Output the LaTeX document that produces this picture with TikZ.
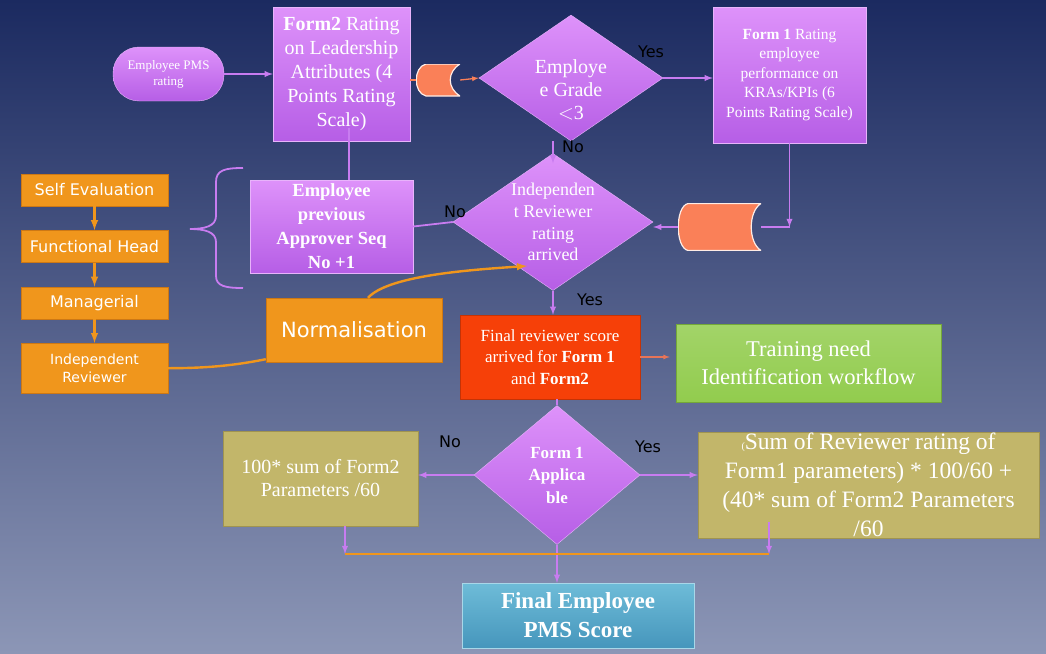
\documentclass[tikz,border=0pt]{standalone}
\usepackage{fontspec}
\setmainfont{Liberation Serif}
\newfontfamily\tahoma{DejaVu Sans}
\usetikzlibrary{shapes.geometric,arrows,chains,positioning,calc}

\definecolor{bgtop}{RGB}{27,42,96}
\definecolor{bgbot}{RGB}{140,150,182}
\definecolor{lilac}{RGB}{200,124,240}
\definecolor{lilactop}{RGB}{222,146,250}
\definecolor{lilacbot}{RGB}{182,94,230}
\definecolor{amber}{RGB}{240,150,28}
\definecolor{amberdk}{RGB}{205,120,20}
\definecolor{coral}{RGB}{250,128,88}
\definecolor{salmon}{RGB}{232,116,88}
\definecolor{scarlet}{RGB}{246,64,8}
\definecolor{lime}{RGB}{146,204,78}
\definecolor{limedk}{RGB}{116,168,56}
\definecolor{khaki}{RGB}{194,182,106}
\definecolor{khakidk}{RGB}{160,148,80}
\definecolor{tealtop}{RGB}{110,188,216}
\definecolor{tealbot}{RGB}{70,150,188}

\begin{document}
\begin{tikzpicture}[
x=1pt,y=-1pt,
purp/.style={
  draw=lilactop!70!white,
  top color=lilactop,
  bottom color=lilacbot,
  text=white,
  align=center,
  inner sep=1pt
},
decide/.style={
  diamond,
  draw=lilactop!70!white,
  top color=lilactop,
  bottom color=lilacbot,
  inner sep=0pt
},
dtext/.style={
  text=white,
  align=center
},
flow/.style={
  draw=amberdk,
  fill=amber,
  text=white,
  align=center,
  minimum width=147,
  minimum height=32,
  font=\tahoma\fontsize{16}{18}\selectfont
},
olive/.style={
  draw=khakidk,
  fill=khaki,
  text=white,
  align=center
},
tape/.style={
  inner sep=0pt,
  path picture={
    \filldraw[fill=coral,draw=white!85!coral,line width=1.2pt]
      ([xshift=10pt]path picture bounding box.north west)
      -- (path picture bounding box.north east)
      .. controls +(-13,8) and +(-13,-8) .. (path picture bounding box.south east)
      -- ([xshift=10pt]path picture bounding box.south west)
      .. controls +(-13,-3) and +(-13,3) .. ([xshift=10pt]path picture bounding box.north west)
      -- cycle;
  }
},
yn/.style={
  font=\tahoma\fontsize{16}{18}\selectfont,
  text=black
},
link/.style={
  draw=lilac,
  line width=1.8pt
},
amline/.style={
  draw=amber,
  line width=2.4pt
},
coralline/.style={
  draw=coral,
  line width=1.3pt
}
]
\useasboundingbox (0,0) rectangle (1046,653);
\fill[top color=bgtop,bottom color=bgbot] (0,0) rectangle (1046,653);

\node[purp,rounded corners=26pt,minimum width=111,minimum height=54,
  font=\fontsize{13}{16}\selectfont] at (168.5,74)
  (pms) {Employee PMS\\rating};
\node[purp,minimum width=137,minimum height=134,
  font=\fontsize{20}{24}\selectfont] at (341.5,74)
  (form2) {\textbf{Form2} Rating\\on Leadership\\Attributes (4\\Points Rating\\Scale)};
\node[tape,minimum width=44,minimum height=32] at (438,80)
  (tape1) {};
\node[decide,minimum width=184,minimum height=126,
  label={[dtext,yshift=-12pt,font=\fontsize{20}{23}\selectfont]center:{Employe\\e Grade\\$<$3}}] at (571,78)
  (grade) {};
\node[purp,minimum width=153,minimum height=136,
  font=\fontsize{15.5}{19.5}\selectfont] at (789.5,75)
  (form1) {\textbf{Form 1} Rating\\employee\\performance on\\KRAs/KPIs (6\\Points Rating Scale)};
\node[tape,minimum width=83,minimum height=47] at (719.5,227)
  (tape2) {};
\node[decide,minimum width=200,minimum height=137,
  label={[dtext,font=\fontsize{18}{21.7}\selectfont]center:{Independen\\t Reviewer\\rating\\arrived}}] at (553,222)
  (rev) {};
\node[purp,minimum width=163,minimum height=93,
  font=\bfseries\fontsize{18.5}{24}\selectfont] at (331.5,226.5)
  (prev) {Employee\\previous\\Approver Seq\\No +1};

\begin{scope}[start chain=1 going below,node distance=24pt]
\node[flow,on chain=1] at (94.5,190)
  (self) {Self Evaluation};
\node[flow,on chain=1,join=by {amline,-latex}]
  (func) {Functional Head};
\node[flow,on chain=1,join=by {amline,-latex}]
  (mgr) {Managerial};
\node[flow,on chain=1,join=by {amline,-latex},minimum height=50,
  font=\tahoma\fontsize{14}{18}\selectfont]
  (indep) {Independent\\Reviewer};
\end{scope}

\node[flow,minimum width=176,minimum height=64,
  font=\tahoma\fontsize{21}{24}\selectfont] at (354,330)
  (norm) {Normalisation};
\node[draw=scarlet!80!black,fill=scarlet,text=white,align=center,
  minimum width=180,minimum height=84,
  font=\fontsize{17}{21.5}\selectfont] at (550,357)
  (fr) {Final reviewer score\\arrived for \textbf{Form 1}\\and \textbf{Form2}};
\node[draw=limedk,top color=lime!85!white,bottom color=lime,text=white,align=center,
  minimum width=265,minimum height=78,
  font=\fontsize{22.5}{28}\selectfont] at (808.5,363)
  (train) {Training need\\Identification workflow};
\node[decide,minimum width=166,minimum height=139,
  label={[dtext,font=\bfseries\fontsize{17}{22.5}\selectfont]center:{Form 1\\Applica\\ble}}] at (557,475)
  (appl) {};
\node[olive,minimum width=195,minimum height=95,
  font=\fontsize{20}{23}\selectfont] at (320.5,478.5)
  (lbox) {100* sum of Form2\\Parameters /60};
\node[olive,minimum width=341,minimum height=106,
  label={[dtext,font=\fontsize{23.5}{29}\selectfont]center:{{\fontsize{10}{10}\selectfont(}Sum of Reviewer rating of\\Form1 parameters) * 100/60 +\\(40* sum of Form2 Parameters\\/60}}] at (868.5,485)
  (rbox) {};
\node[draw=tealtop!60!white,top color=tealtop,bottom color=tealbot,text=white,align=center,
  minimum width=232,minimum height=65,
  font=\bfseries\fontsize{23}{29}\selectfont] at (578,615.5)
  (score) {Final Employee\\PMS Score};

\node[yn] at (651,52) (yes1) {Yes};
\node[yn] at (573,147) (no1) {No};
\node[yn] at (455,212) (no2) {No};
\node[yn] at (590,300) (yes2) {Yes};
\node[yn] at (450,442) (no3) {No};
\node[yn] at (648,447) (yes3) {Yes};

\coordinate (cut) at (349,128);
\coordinate (cut2) at (769,522);
\coordinate (joinL) at (345,554);
\coordinate (joinR) at (769,554);

\draw[link,-latex] (pms) -- (form2);
\draw[coralline] (form2.east |- tape1) -- (tape1.west);
\draw[coralline,-latex] (tape1.east) -- (grade.west);
\draw[link,-latex] (grade.east) -- (grade.east -| form1.west);
\draw[link,-latex] (form1.south) -- (form1.south |- tape2);
\draw[link] (form1.south |- tape2) -- (tape2.east);
\draw[link,-latex] (tape2.west) -- (tape2.west -| rev.east);
\draw[link,-latex] (rev.north |- grade.south) -- ([yshift=-10pt]rev.north);
\draw[link] (rev.west) -- (prev.east);
\draw[link] (prev.north -| cut) -- (cut);
\draw[link,-latex] (rev.south) -- (rev.south |- fr.north);
\draw[salmon,line width=1.2pt,-latex] (fr.east) -- ([xshift=-6pt]fr.east -| train.west);
\draw[link] (fr.south -| appl.north) -- (appl.north);
\draw[link,-latex] (appl.west) -- (appl.west -| lbox.east);
\draw[link,-latex] (appl.east) -- (appl.east -| rbox.west);
\draw[link,-latex] (appl.south) -- (appl.south |- score.north);
\draw[link,-latex] (lbox.south -| joinL) -- (joinL);
\draw[link,-latex] (cut2) -- (joinR);
\draw[amline] (joinL) -- (joinR);

\draw[amline] (indep.east) .. controls +(40,0) and +(-30,6) .. ([yshift=3pt]norm.south west);
\draw[amline,-latex] ([xshift=14pt]norm.north) .. controls +(20,-22) and +(-60,4) .. ([shift={(-26,44)}]rev.center);

\draw[link] (243,168) .. controls (225,168) and (216,170) .. (216,182) -- (216,216)
  .. controls (216,226) and (205,229) .. (190,229)
  .. controls (205,229) and (216,232) .. (216,242) -- (216,276)
  .. controls (216,286) and (225,288) .. (243,288);
\end{tikzpicture}
\end{document}
